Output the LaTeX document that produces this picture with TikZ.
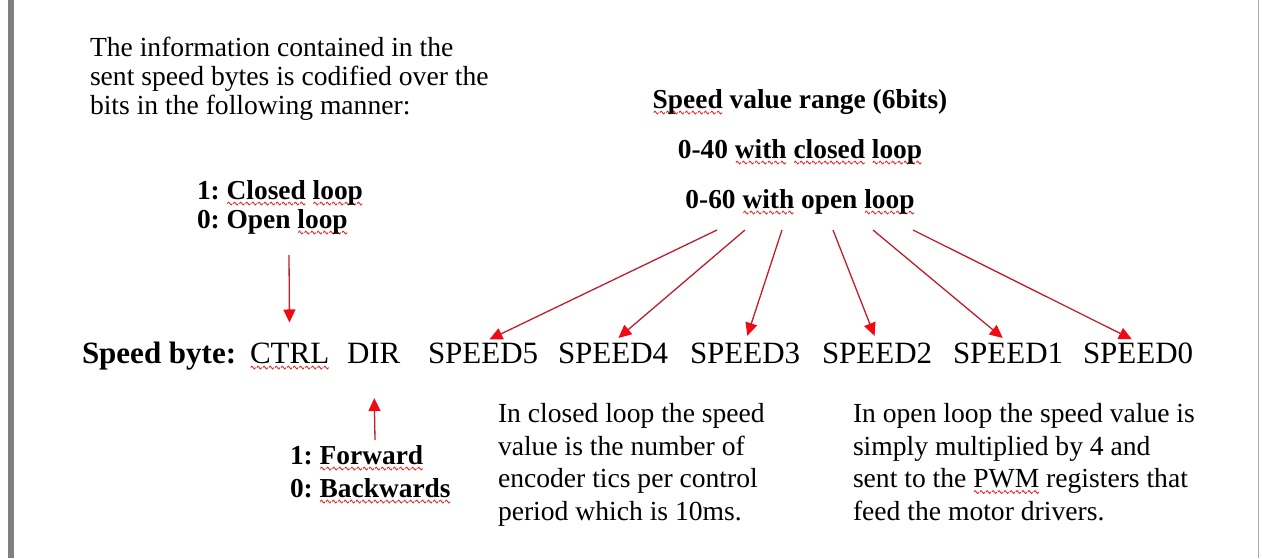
\documentclass[tikz,border=0pt]{standalone}
\usepackage{fontspec}
\setmainfont{Liberation Serif}
\usetikzlibrary{arrows.meta}

\definecolor{linered}{RGB}{190,30,45}
\definecolor{tipred}{RGB}{240,10,20}
\definecolor{squig}{RGB}{225,45,45}
\definecolor{bargray}{RGB}{128,128,128}
\definecolor{edgegray}{RGB}{170,170,170}

% red wavy underline of a flagged word
\newsavebox\wavebox
\newsavebox\flagword
\newcommand\spl[1]{\sbox\flagword{#1}\leavevmode
  \rlap{\raisebox{-6.5pt}[0pt][0pt]{\hbox to \wd\flagword{\xleaders\copy\wavebox\hfill}}}%
  \usebox\flagword}

\begin{document}
\frenchspacing
\sbox\wavebox{\begin{pgfpicture}%
  \pgfsetstrokecolor{squig}\pgfsetlinewidth{0.9pt}\pgfsetroundjoin
  \pgfpathmoveto{\pgfpoint{0pt}{0pt}}%
  \pgfpathlineto{\pgfpoint{1.25pt}{1.5pt}}%
  \pgfpathlineto{\pgfpoint{3.75pt}{-1.5pt}}%
  \pgfpathlineto{\pgfpoint{5pt}{0pt}}%
  \pgfusepath{stroke}%
  \end{pgfpicture}}%
\begin{tikzpicture}[x=1pt,y=-1pt,
  every node/.style={inner sep=0pt, outer sep=0pt},
  % multi-line nodes are placed by the baseline of their last line
  body/.style={anchor=base west, align=left, font=\fontsize{27.6}{32.5}\selectfont},
  intro/.style={anchor=base west, align=left, font=\fontsize{27.6}{29}\selectfont},
  boldlbl/.style={anchor=base west, align=left, font=\bfseries\fontsize{27.4}{29}\selectfont},
  rangelbl/.style={anchor=base, font=\bfseries\fontsize{27.4}{29}\selectfont},
  bitname/.style={anchor=base west, font=\fontsize{31}{33}\selectfont},
  ptr/.style={draw=linered, line width=1.3pt,
    -{Triangle[length=13pt,width=12pt,color=tipred]}}
]
\useasboundingbox (0,0) rectangle (1262,558);
\fill[white] (0,0) rectangle (1262,558);

% page frame
\fill[bargray] (8,0) rectangle (14,558);
\draw[edgegray, line width=1pt] (1258,0) -- (1258,558);

% introduction
\node[intro] (intro) at (90,114) {The information contained in the\\
  sent speed bytes is codified over the\\
  bits in the following manner:};

% control-bit meaning
\node[boldlbl] (ctrlopt) at (197,228) {1: \spl{Closed} \spl{loop}\\0: Open \spl{loop}};

% speed range
\node[rangelbl] (rhead) at (800,108) {\spl{Speed} value range (6bits)};
\node[rangelbl] (rclosed) at (800,158) {0-40 \spl{with} \spl{closed} \spl{loop}};
\node[rangelbl] (ropen) at (800,208) {0-60 \spl{with} open \spl{loop}};

% the speed byte
\node[bitname, font=\bfseries\fontsize{31}{33}\selectfont] (lbl) at (82,363) {Speed byte:};
\node[bitname] (ctrl) at (250,363) {\spl{CTRL}};
\node[bitname] (dir)  at (347,363) {DIR};
\node[bitname] (s5) at (428,363) {SPEED5};
\node[bitname] (s4) at (558,363) {SPEED4};
\node[bitname] (s3) at (690,363) {SPEED3};
\node[bitname] (s2) at (822,363) {SPEED2};
\node[bitname] (s1) at (953,363) {SPEED1};
\node[bitname] (s0) at (1083,363) {SPEED0};

% direction-bit meaning
\node[boldlbl, font=\bfseries\fontsize{27.4}{33}\selectfont] (diropt) at (290,497) {1: \spl{Forward}\\0: \spl{Backwards}};

% explanations
\node[body] (closedtxt) at (498,520) {In closed loop the speed\\
  value is the number of\\
  encoder tics per control\\
  period which is 10ms.};
\node[body] (opentxt) at (853,520) {In open loop the speed value is\\
  simply multiplied by 4 and\\
  sent to the \spl{PWM} registers that\\
  feed the motor drivers.};

% arrows
\coordinate (ctail) at (289,255);
\coordinate (dtail) at (375,440);
\coordinate (t5) at (717,230);
\coordinate (t4) at (745,230);
\coordinate (t3) at (782,230);
\coordinate (t2) at (833,230);
\coordinate (t1) at (873,230);
\coordinate (t0) at (913,230);

\draw[ptr, shorten >=20pt] (ctail) -- (ctrl.north);
\draw[ptr, shorten >=35pt] (dtail) -- (dir.south);
\foreach \i in {5,4,3,2,1,0}
  \draw[ptr, shorten >=7pt] (t\i) -- (s\i.north);
\end{tikzpicture}
\end{document}
